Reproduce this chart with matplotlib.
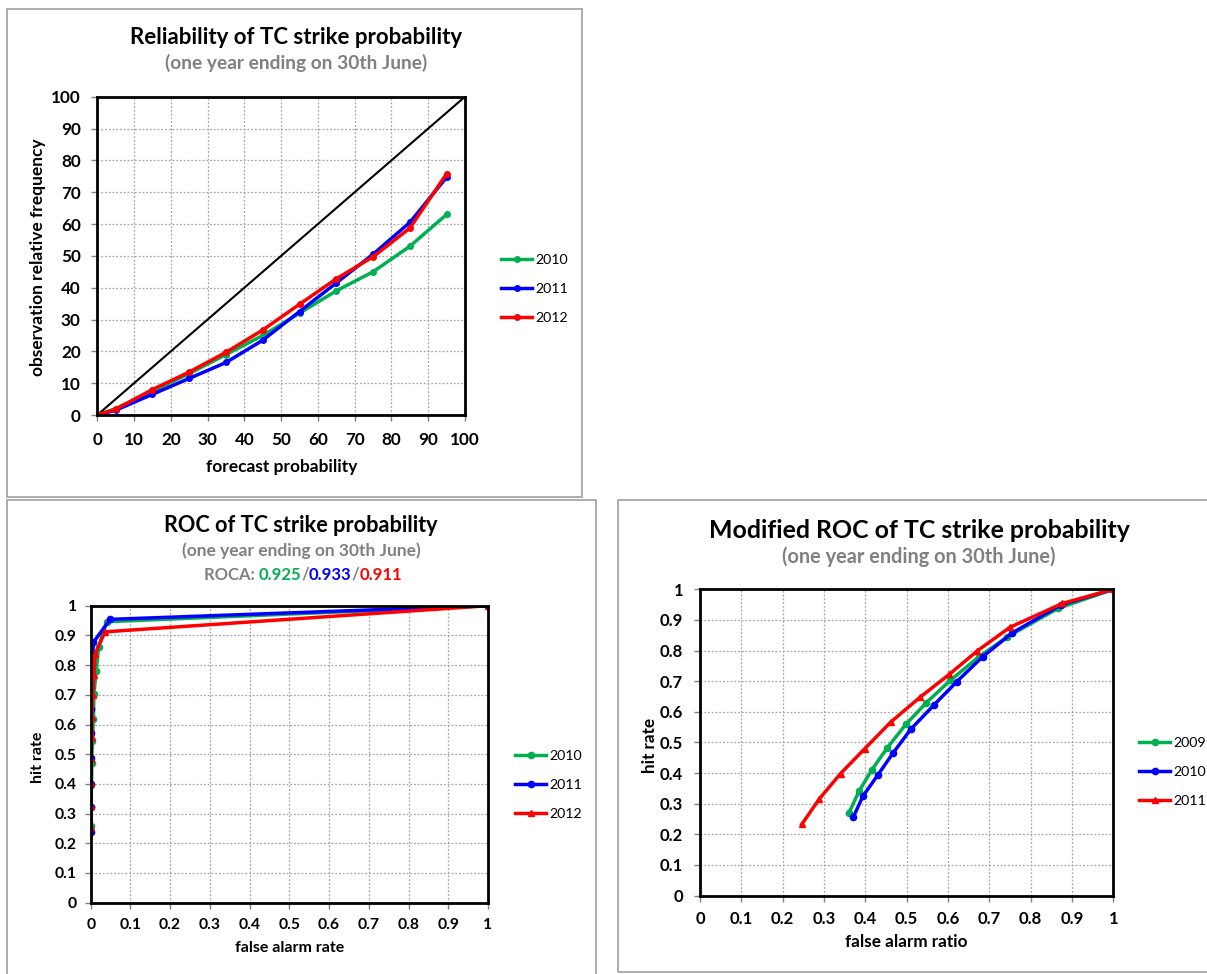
import matplotlib
matplotlib.use("Agg")
import matplotlib.pyplot as plt
from matplotlib.patches import Rectangle

W, H = 1207, 974
DPI = 100
plt.rcParams['font.family'] = ['Lato', 'DejaVu Sans']

GREEN, BLUE, RED = '#00B050', '#0000FF', '#FF0000'
GREY_TXT = '#808080'

# ---- Reliability diagram ----
fcst_prob = [0, 5, 15, 25, 35, 45, 55, 65, 75, 85, 95]
rel_2010 = [0, 2, 7.5, 13, 19, 25, 32, 39, 45, 53, 63]
rel_2011 = [0, 1.5, 6.5, 11.5, 16.5, 23.5, 32.5, 41.5, 50.5, 60.5, 74.7]
rel_2012 = [0, 1.8, 8, 13.5, 19.7, 26.7, 34.8, 42.8, 49.7, 58.7, 75.8]
rel_labels = ['2010', '2011', '2012']

# ---- ROC ----
roc_far_2010 = [0.0, 0.001, 0.002, 0.003, 0.004, 0.007, 0.008, 0.014, 0.020, 0.040, 1.0]
roc_hit_2010 = [0.258, 0.323, 0.396, 0.469, 0.545, 0.620, 0.703, 0.780, 0.862, 0.946, 1.0]
roc_far_2011 = [0.001, 0.001, 0.0, 0.0, 0.0, 0.001, 0.002, 0.004, 0.007, 0.049, 1.0]
roc_hit_2011 = [0.239, 0.323, 0.400, 0.486, 0.570, 0.651, 0.727, 0.805, 0.877, 0.954, 1.0]
roc_far_2012 = [0.0, 0.0, 0.0, 0.001, 0.003, 0.003, 0.005, 0.008, 0.011, 0.036, 1.0]
roc_hit_2012 = [0.256, 0.325, 0.404, 0.483, 0.559, 0.626, 0.699, 0.767, 0.837, 0.912, 1.0]
roc_labels = ['2010', '2011', '2012']
roca_values = ['0.925', '0.933', '0.911']

# ---- Modified ROC ----
mroc_far_2009 = [0.360, 0.385, 0.415, 0.453, 0.498, 0.548, 0.606, 0.675, 0.744, 0.867, 1.0]
mroc_hit_2009 = [0.269, 0.341, 0.409, 0.482, 0.559, 0.630, 0.703, 0.780, 0.845, 0.938, 1.0]
mroc_far_2010 = [0.371, 0.394, 0.430, 0.468, 0.510, 0.566, 0.621, 0.684, 0.756, 0.873, 1.0]
mroc_hit_2010 = [0.256, 0.324, 0.393, 0.467, 0.543, 0.622, 0.698, 0.780, 0.858, 0.949, 1.0]
mroc_far_2011 = [0.246, 0.289, 0.340, 0.399, 0.462, 0.532, 0.603, 0.671, 0.750, 0.877, 1.0]
mroc_hit_2011 = [0.232, 0.316, 0.398, 0.480, 0.567, 0.647, 0.722, 0.799, 0.876, 0.954, 1.0]
mroc_labels = ['2009', '2010', '2011']

fig = plt.figure(figsize=(W / DPI, H / DPI), dpi=DPI)


def fx(px):
    return px / W


def fy(py):
    return 1 - py / H


def frame(x0, y0, x1, y1):
    fig.patches.append(Rectangle((fx(x0), fy(y1)), fx(x1 - x0), (y1 - y0) / H,
                                 transform=fig.transFigure, fill=False,
                                 edgecolor='#a0a0a0', lw=1.2, zorder=0))


def make_axes(x0, y0, x1, y1, tick_size):
    ax = fig.add_axes([fx(x0), fy(y1), fx(x1 - x0), (y1 - y0) / H])
    for s in ax.spines.values():
        s.set_linewidth(2.0)
        s.set_color('black')
    ax.grid(True, color='#a6a6a6', linestyle=(0, (1.5, 1.5)), lw=0.9)
    ax.set_axisbelow(True)
    ax.tick_params(direction='out', length=4, width=1, color='#808080',
                   labelsize=tick_size)
    return ax


def bold_ticks(ax):
    for lab in ax.get_xticklabels() + ax.get_yticklabels():
        lab.set_fontweight('bold')


def add_legend(ax, x_px, y_px):
    ax.legend(loc='center left', bbox_to_anchor=(fx(x_px), fy(y_px)),
              bbox_transform=fig.transFigure, frameon=False, fontsize=10.2,
              handlelength=2.2, handletextpad=0.2, labelspacing=1.2,
              borderaxespad=0, borderpad=0)


# panel frames
frame(7, 9, 582, 497)
frame(7, 500, 596, 990)
frame(618, 500, 1220, 972)

# ---------------- Reliability ----------------
ax1 = make_axes(97.3, 96.7, 465, 415, 12.3)
ax1.plot([0, 100], [0, 100], color='black', lw=1.5)
for vals, col, lab in zip([rel_2010, rel_2011, rel_2012], [GREEN, BLUE, RED], rel_labels):
    ax1.plot(fcst_prob, vals, color=col, lw=2.5, marker='o', ms=4, label=lab)
ax1.set_xlim(0, 100)
ax1.set_ylim(0, 100)
ax1.set_xticks(range(0, 101, 10))
ax1.set_yticks(range(0, 101, 10))
ax1.tick_params(axis='y', pad=8)
ax1.tick_params(axis='x', pad=8)
bold_ticks(ax1)
add_legend(ax1, 501, 289)

fig.text(fx(296), fy(37), 'Reliability of TC strike probability', ha='center', va='center',
         fontsize=16, fontweight='bold')
fig.text(fx(296), fy(63), '(one year ending on 30th June)', ha='center', va='center',
         fontsize=13.8, fontweight='bold', color=GREY_TXT)
fig.text(fx(38), fy(257), 'observation relative frequency', ha='center', va='center',
         rotation=90, fontsize=12.5, fontweight='bold')
fig.text(fx(282), fy(467), 'forecast probability', ha='center', va='center',
         fontsize=12.5, fontweight='bold')

# ---------------- ROC ----------------
ax2 = make_axes(90.7, 605.7, 488, 902.7, 11.3)
ax2.plot(roc_far_2010, roc_hit_2010, color=GREEN, lw=2.5, marker='o', ms=4.5, label=roc_labels[0])
ax2.plot(roc_far_2011, roc_hit_2011, color=BLUE, lw=2.5, marker='o', ms=4.5, label=roc_labels[1])
ax2.plot(roc_far_2012, roc_hit_2012, color=RED, lw=2.5, marker='^', ms=4.5, label=roc_labels[2])
ticks = [0, 0.1, 0.2, 0.3, 0.4, 0.5, 0.6, 0.7, 0.8, 0.9, 1]
ticklabels = ['0', '0.1', '0.2', '0.3', '0.4', '0.5', '0.6', '0.7', '0.8', '0.9', '1']
ax2.set_xlim(0, 1)
ax2.set_ylim(0, 1)
ax2.set_xticks(ticks, ticklabels)
ax2.set_yticks(ticks, ticklabels)
ax2.tick_params(axis='y', pad=6)
ax2.tick_params(axis='x', pad=7)
bold_ticks(ax2)
add_legend(ax2, 515, 785)

fig.text(fx(301), fy(526), 'ROC of TC strike probability', ha='center', va='center',
         fontsize=15.6, fontweight='bold')
fig.text(fx(301), fy(551), '(one year ending on 30th June)', ha='center', va='center',
         fontsize=12.5, fontweight='bold', color=GREY_TXT)
fig.text(fx(38), fy(757), 'hit rate', ha='center', va='center',
         rotation=90, fontsize=11.5, fontweight='bold')
fig.text(fx(290), fy(948), 'false alarm rate', ha='center', va='center',
         fontsize=11.5, fontweight='bold')

# ROCA line with coloured values
pieces = [('ROCA: ', GREY_TXT), (roca_values[0], GREEN), ('/', GREY_TXT),
          (roca_values[1], BLUE), ('/', GREY_TXT), (roca_values[2], RED)]
renderer = fig.canvas.get_renderer()
texts = []
widths = []
for s, c in pieces:
    t = fig.text(0, fy(575), s, ha='left', va='center', fontsize=12,
                 fontweight='bold', color=c)
    texts.append(t)
    widths.append(t.get_window_extent(renderer).width)
total = sum(widths)
x = 303 - total / 2
for t, w in zip(texts, widths):
    t.set_x(fx(x))
    x += w

# ---------------- Modified ROC ----------------
ax3 = make_axes(700, 589.3, 1113.3, 895.5, 12)
ax3.plot(mroc_far_2009, mroc_hit_2009, color=GREEN, lw=2.5, marker='o', ms=4.5, label=mroc_labels[0])
ax3.plot(mroc_far_2010, mroc_hit_2010, color=BLUE, lw=2.5, marker='o', ms=4.5, label=mroc_labels[1])
ax3.plot(mroc_far_2011, mroc_hit_2011, color=RED, lw=2.5, marker='^', ms=4.5, label=mroc_labels[2])
ax3.set_xlim(0, 1)
ax3.set_ylim(0, 1)
ax3.set_xticks(ticks, ticklabels)
ax3.set_yticks(ticks, ticklabels)
ax3.tick_params(axis='y', pad=8)
ax3.tick_params(axis='x', pad=7)
bold_ticks(ax3)
add_legend(ax3, 1139, 772)

fig.text(fx(919), fy(530), 'Modified ROC of TC strike probability', ha='center', va='center',
         fontsize=17.9, fontweight='bold')
fig.text(fx(919), fy(557), '(one year ending on 30th June)', ha='center', va='center',
         fontsize=14.3, fontweight='bold', color=GREY_TXT)
fig.text(fx(650), fy(745), 'hit rate', ha='center', va='center',
         rotation=90, fontsize=12.3, fontweight='bold')
fig.text(fx(906), fy(942), 'false alarm ratio', ha='center', va='center',
         fontsize=12.3, fontweight='bold')

fig.savefig('out.png', dpi=DPI)
